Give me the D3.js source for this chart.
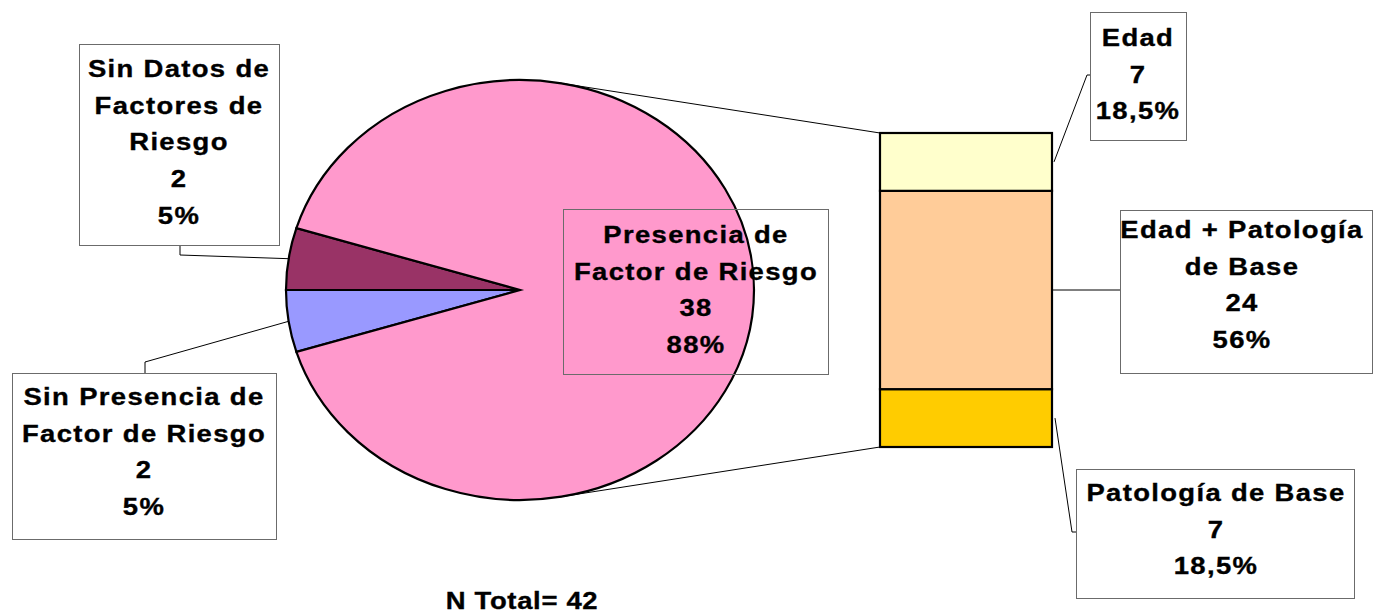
<!DOCTYPE html>
<html>
<head>
<meta charset="utf-8">
<script src="https://cdn.jsdelivr.net/npm/d3@7"></script>
<style>
  body { margin: 0; background: #fff; }
  text { font-family: "Liberation Sans", Arial, sans-serif; font-weight: bold; fill: #000; stroke: #000; stroke-width: 0.35px; }
</style>
</head>
<body>
<svg id="chart" width="1373" height="614"></svg>
<script>
// pie: order is clockwise starting just below 9 o'clock
var pieNames = ["Sin Presencia de Factor de Riesgo", "Sin Datos de Factores de Riesgo", "Presencia de Factor de Riesgo"];
var pieValues = [2, 2, 38];
var piePercents = ["5%", "5%", "88%"];
var pieColors = ["#9999FF", "#993366", "#FF99CC"];

// bar of pie: stacked from the bottom
var barNames = ["Patología de Base", "Edad + Patología de Base", "Edad"];
var barValues = [7, 24, 7];
var barPercents = ["18,5%", "56%", "18,5%"];
var barColors = ["#FFCC00", "#FFCC99", "#FFFFCC"];

var totalN = 42;

var svg = d3.select('#chart');

var cx = 520, cy = 290, rx = 234, ry = 210;
var LINE = 36.7;

var total = d3.sum(pieValues);
var a0 = 1.5 * Math.PI - pieValues[0] / total * 2 * Math.PI;
var pie = d3.pie().sort(null).startAngle(a0).endAngle(a0 + 2 * Math.PI);
var arcs = pie(pieValues);
var arc = d3.arc().innerRadius(0).outerRadius(rx);

function ellipsePoint(a, k) {
    return [cx + rx * k * Math.sin(a), cy - ry * k * Math.cos(a)];
}

// tangent from an outside point to the ellipse
function tangent(px, py, upper) {
    var qu = (px - cx) / rx, qv = (py - cy) / ry;
    var d = Math.sqrt(qu * qu + qv * qv);
    var t = Math.atan2(qv, qu) + (upper ? -1 : 1) * Math.acos(1 / d);
    return [cx + rx * Math.cos(t), cy + ry * Math.sin(t)];
}

var pieG = svg.append('g')
    .attr('transform', 'translate(' + cx + ',' + cy + ') scale(1,' + (ry / rx) + ')');
pieG.selectAll('path')
    .data(arcs)
    .enter()
    .append('path')
    .attr('d', arc)
    .style('fill', function (d, i) { return pieColors[i]; })
    .style('stroke', '#000')
    .style('stroke-width', 2.2)
    .attr('vector-effect', 'non-scaling-stroke');

// bar
var barX = 880, barW = 172;
var y = d3.scaleLinear().domain([0, d3.sum(barValues)]).range([447, 133]);
var stack = [], acc = 0;
barValues.forEach(function (v, i) {
    stack.push({name: barNames[i], v0: acc, v1: acc + v, color: barColors[i]});
    acc += v;
});

// connectors pie -> bar
var topT = tangent(barX, y(acc), true),
    botT = tangent(barX, y(0), false);
svg.append('line').attr('x1', topT[0]).attr('y1', topT[1]).attr('x2', barX).attr('y2', y(acc))
    .style('stroke', '#000').style('stroke-width', 1);
svg.append('line').attr('x1', botT[0]).attr('y1', botT[1]).attr('x2', barX).attr('y2', y(0))
    .style('stroke', '#000').style('stroke-width', 1);

svg.selectAll('.seg')
    .data(stack)
    .enter()
    .append('rect')
    .attr('class', 'seg')
    .attr('x', barX)
    .attr('width', barW)
    .attr('y', function (d) { return y(d.v1); })
    .attr('height', function (d) { return y(d.v0) - y(d.v1); })
    .style('fill', function (d) { return d.color; })
    .style('stroke', '#000')
    .style('stroke-width', 2.2);

function segMid(i) { return (y(stack[i].v0) + y(stack[i].v1)) / 2; }
var barRight = barX + barW;

var blueEdge = ellipsePoint((arcs[0].startAngle + arcs[0].endAngle) / 2, 1),
    darkEdge = ellipsePoint((arcs[1].startAngle + arcs[1].endAngle) / 2, 1);

var labels = [
    {lines: ["Sin Datos de", "Factores de", "Riesgo", pieValues[1], piePercents[1]],
     box: [79, 44, 279, 245], tx: 179, ty: 77, fill: '#fff',
     leader: [[180, 245], [180, 255], darkEdge]},
    {lines: ["Sin Presencia de", "Factor de Riesgo", pieValues[0], piePercents[0]],
     box: [12, 373, 276, 539], tx: 144, ty: 405, fill: '#fff',
     leader: [[145, 373], [145, 362], blueEdge]},
    {lines: ["Presencia de", "Factor de Riesgo", pieValues[2], piePercents[2]],
     box: [563, 209, 828, 374], tx: 696, ty: 243, fill: 'none', leader: null},
    {lines: ["Edad", barValues[2], barPercents[2]],
     box: [1090, 12, 1186, 140], tx: 1138, ty: 46, fill: '#fff',
     leader: [[barRight + 2, segMid(2)], [1087, 75], [1090, 75]]},
    {lines: ["Edad + Patología", "de Base", barValues[1], barPercents[1]],
     box: [1120, 210, 1372, 373], tx: 1242, ty: 238, fill: '#fff',
     leader: [[barRight, segMid(1)], [1120, segMid(1)]]},
    {lines: ["Patología de Base", barValues[0], barPercents[0]],
     box: [1076, 469, 1354, 598], tx: 1216, ty: 501, fill: '#fff',
     leader: [[barRight + 3, segMid(0)], [1072, 532], [1076, 532]]}
];

var line = d3.line();
labels.forEach(function (lb) {
    if (lb.leader) {
        svg.append('path').attr('d', line(lb.leader))
            .style('fill', 'none').style('stroke', '#000').style('stroke-width', 1);
    }
});

labels.forEach(function (lb) {
    var b = lb.box;
    svg.append('rect')
        .attr('x', b[0] + 0.5).attr('y', b[1] + 0.5)
        .attr('width', b[2] - b[0]).attr('height', b[3] - b[1])
        .style('fill', lb.fill)
        .style('stroke', '#6b6b6b')
        .style('stroke-width', 1);
    lb.lines.forEach(function (t, i) {
        svg.append('g')
            .attr('transform', 'translate(' + lb.tx + ',' + (lb.ty + i * LINE) + ') scale(1.12,1)')
            .append('text')
            .attr('text-anchor', 'middle')
            .style('font-size', '24.5px')
            .style('letter-spacing', '1.2px')
            .text(t);
    });
});

svg.append('g')
    .attr('transform', 'translate(522,609) scale(1.12,1)')
    .append('text')
    .attr('text-anchor', 'middle')
    .style('font-size', '24.5px')
    .style('letter-spacing', '0.6px')
    .text('N Total= ' + totalN);
</script>
</body>
</html>
